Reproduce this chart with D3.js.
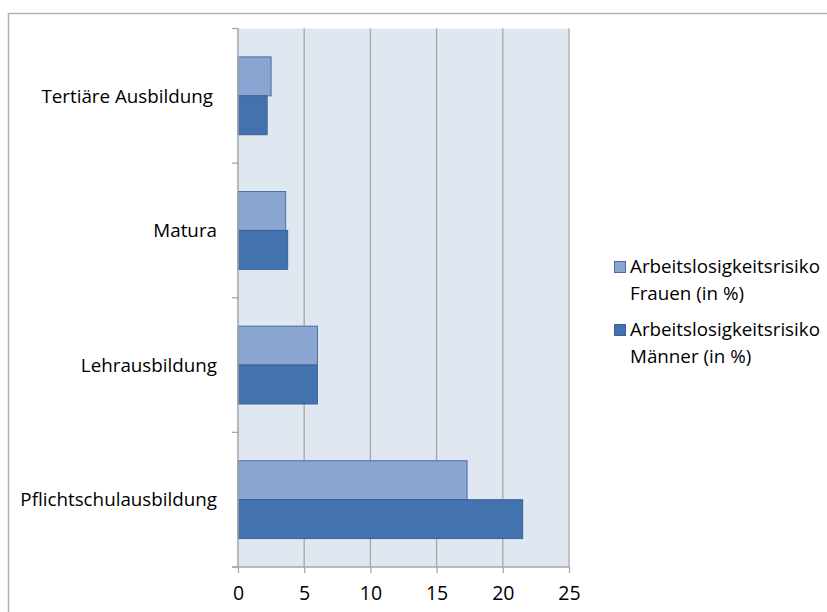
<!DOCTYPE html>
<html lang="de">
<head>
  <meta charset="utf-8">
  <title>Arbeitslosigkeitsrisiko</title>
  <script src="https://d3js.org/d3.v7.min.js"></script>
  <style>
    body { margin: 0; background: #fff; }
    text { font-family: "Open Sans", Lato, sans-serif; fill: #000; }
  </style>
</head>
<body>
<svg id="chart" width="827" height="612"></svg>

<script>
// data
var categories = ["Tertiäre Ausbildung", "Matura", "Lehrausbildung", "Pflichtschulausbildung"];
var seriesNames = ["Arbeitslosigkeitsrisiko Frauen (in %)", "Arbeitslosigkeitsrisiko Männer (in %)"];
var legendLines = [["Arbeitslosigkeitsrisiko", "Frauen (in %)"], ["Arbeitslosigkeitsrisiko", "Männer (in %)"]];
var frauen = [2.5, 3.6, 6.0, 17.3];
var maenner = [2.2, 3.75, 6.0, 21.5];
var xTicks = [0, 5, 10, 15, 20, 25];

var fills = ["#8aa5d1", "#4373ae"];
var strokes = ["#4a6ea3", "#3a6196"];
var fontSize = "18.8px";

var svg = d3.select("#chart");

// outer chart border (only top and left visible)
svg.append("path")
    .attr("d", "M8.5,612 V13.5 H827")
    .attr("fill", "none")
    .attr("stroke", "#b3b3b3")
    .attr("stroke-width", 1.5);

var plotLeft = 238, plotRight = 569, plotTop = 28.5, plotBottom = 567;

var x = d3.scaleLinear().domain([0, 25]).range([plotLeft, plotRight]);
var y = d3.scaleBand().domain(categories).range([plotTop, plotBottom]).paddingInner(0).paddingOuter(0);
var inner = d3.scaleBand().domain([0, 1]).range([0, y.bandwidth()]).paddingOuter(0.73).paddingInner(0);

// plot background
svg.append("rect")
    .attr("x", plotLeft).attr("y", plotTop)
    .attr("width", plotRight - plotLeft).attr("height", plotBottom - plotTop)
    .attr("fill", "#dfe7f1");

// vertical gridlines
svg.append("g").selectAll("line")
    .data(xTicks.slice(1))
    .enter()
    .append("line")
    .attr("x1", function(d) { return x(d); })
    .attr("x2", function(d) { return x(d); })
    .attr("y1", plotTop).attr("y2", plotBottom)
    .attr("stroke", "#a6a6a6")
    .attr("stroke-width", 1.3);

// bars
var rows = categories.map(function(c, i) { return { cat: c, vals: [frauen[i], maenner[i]] }; });
var groups = svg.append("g").selectAll("g")
    .data(rows)
    .enter()
    .append("g")
    .attr("transform", function(d) { return "translate(0," + y(d.cat) + ")"; });

groups.selectAll("rect")
    .data(function(d) { return d.vals; })
    .enter()
    .append("rect")
    .attr("x", x(0))
    .attr("y", function(d, i) { return inner(i); })
    .attr("width", function(d) { return x(d) - x(0); })
    .attr("height", inner.bandwidth())
    .attr("fill", function(d, i) { return fills[i]; })
    .attr("stroke", function(d, i) { return strokes[i]; })
    .attr("stroke-width", 1);

// y axis (category axis) with tick marks between bands
var yAxis = svg.append("g");
yAxis.append("line")
    .attr("x1", plotLeft).attr("x2", plotLeft)
    .attr("y1", plotTop).attr("y2", plotBottom)
    .attr("stroke", "#a6a6a6").attr("stroke-width", 1.5);
var bandEdges = categories.map(function(c) { return y(c); }).concat([plotBottom]);
yAxis.selectAll("line.tick")
    .data(bandEdges)
    .enter()
    .append("line")
    .attr("class", "tick")
    .attr("x1", plotLeft - 6).attr("x2", plotLeft)
    .attr("y1", function(d) { return d; })
    .attr("y2", function(d) { return d; })
    .attr("stroke", "#a6a6a6").attr("stroke-width", 1.3);
yAxis.selectAll("text")
    .data(categories)
    .enter()
    .append("text")
    .attr("x", function(d, i) { return i == 0 ? 213 : 217; })
    .attr("y", function(d) { return y(d) + y.bandwidth() / 2; })
    .attr("dy", "0.36em")
    .attr("text-anchor", "end")
    .style("font-size", fontSize)
    .text(function(d) { return d; });

// x axis
var xAxis = d3.axisBottom(x).tickValues(xTicks).tickSize(6).tickSizeOuter(0);
var gx = svg.append("g")
    .attr("transform", "translate(0," + plotBottom + ")")
    .call(xAxis);
gx.select(".domain").attr("stroke", "#a6a6a6").attr("stroke-width", 1.5)
    .attr("d", "M" + (plotLeft - 6) + ",0H" + plotRight);
gx.selectAll(".tick line").attr("stroke", "#a6a6a6").attr("stroke-width", 1.3);
gx.selectAll(".tick text")
    .attr("y", 19)
    .style("font-size", "19.5px")
    .style("font-family", "'Open Sans', Lato, sans-serif")
    .attr("fill", "#000");

// legend
var legend = svg.append("g").selectAll("g")
    .data(seriesNames)
    .enter()
    .append("g")
    .attr("transform", function(d, i) { return "translate(614," + (261 + i * 63) + ")"; });
legend.append("rect")
    .attr("x", 0.5).attr("y", 0.5)
    .attr("width", 11).attr("height", 11)
    .attr("fill", function(d, i) { return fills[i]; })
    .attr("stroke", function(d, i) { return strokes[i]; });
legend.append("text")
    .attr("x", 16)
    .attr("y", 12)
    .style("font-size", fontSize)
    .selectAll("tspan")
    .data(function(d, i) { return legendLines[i]; })
    .enter()
    .append("tspan")
    .attr("x", 16)
    .attr("dy", function(d, j) { return j == 0 ? 0 : 27; })
    .text(function(d) { return d; });
</script>
</body>
</html>
